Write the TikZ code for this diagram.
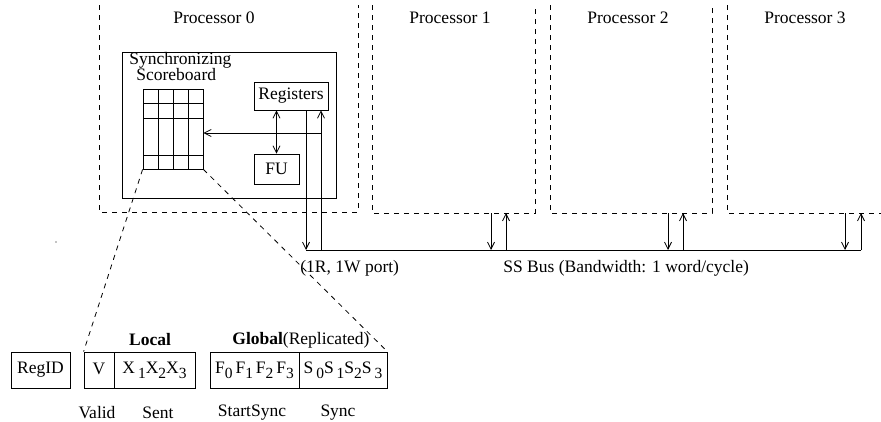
\documentclass[tikz,border=0pt]{standalone}
\usepackage{fontspec}
\setmainfont{Liberation Serif}
\usetikzlibrary{arrows.meta}
\newcommand\mysub[1]{\raisebox{-5pt}{\fontsize{15.5}{17}\selectfont #1}}
\begin{document}
\begin{tikzpicture}[x=1pt,y=-1pt, line width=0.8pt,
  procbox/.style={dash pattern=on 5pt off 5pt},
  box/.style={draw, inner sep=0pt, font=\fontsize{17.5}{20}\selectfont},
  arr/.style={-{Straight Barb[length=7pt,width=7pt]}},
  darr/.style={{Straight Barb[length=7pt,width=7pt]}-{Straight Barb[length=7pt,width=7pt]}},
  lbl/.style={font=\fontsize{17.5}{20}\selectfont, inner sep=0pt}
]
\useasboundingbox (0,0) rectangle (881,421);

% processor regions
\draw[procbox] (99,5) -- (99,212) -- (358,212) -- (358,5);
\draw[procbox] (372,5) -- (372,213) -- (535,213) -- (535,5);
\draw[procbox] (550,5) -- (550,213) -- (712,213) -- (712,5);
\draw[procbox] (727,5) -- (727,213) -- (881,213);

\node[lbl] (t0) at (214,18) {Processor 0};
\node[lbl] (t1) at (450,18) {Processor 1};
\node[lbl] (t2) at (628,18) {Processor 2};
\node[lbl] (t3) at (805,18) {Processor 3};

% inner box of processor 0
\node[box, minimum width=214, minimum height=146] (p0in) at (229,125) {};
\node[lbl, anchor=west] (sync) at (129,60) {Synchronizing};
\node[lbl, anchor=west] (score) at (136,75) {Scoreboard};

% scoreboard grid
\node[box, minimum width=60, minimum height=80] (sb) at (173,129) {};
\foreach \xx in {158,173,188} \draw (\xx,89) -- (\xx,169);
\foreach \yy in {103,118,155} \draw (143,\yy) -- (203,\yy);

\node[box, minimum width=74, minimum height=28] (reg) at (291,96) {Registers};
\node[box, minimum width=45, minimum height=30] (fu) at (276.5,169) {FU};

\draw[darr] (fu.north) -- (fu.north |- reg.south);

% bus
\coordinate (busL) at (306,250);
\coordinate (busR) at (861,250);
\draw (busL) -- (busR);

\coordinate (dn0) at (306,110);
\draw[arr] (dn0) -- (busL);
\coordinate (up0) at (321,250);
\draw[arr] (up0) -- (up0 |- reg.south);
\coordinate (br) at (321,133);
\draw[arr] (br) -- (br -| sb.east);

% other processors' ports
\foreach \d/\u in {491/506, 668/683, 845/861}{
  \coordinate (d\d) at (\d,213);
  \coordinate (u\u) at (\u,250);
  \draw[arr] (d\d) -- (d\d |- busL);
  \draw[arr] (u\u) -- (u\u |- d\d);
}

\node[lbl, anchor=west] (port) at (300,268) {(1R, 1W port)};
\node[lbl, anchor=west] (ssbus) at (503,268) {SS Bus (Bandwidth: 1 word/cycle)};

% scoreboard entry
\node[box, minimum width=59, minimum height=36] (regid) at (40.5,370) {RegID};
\node[box, minimum width=30, minimum height=36] (v) at (99,370) {\raisebox{2pt}{V}};
\node[box, minimum width=81, minimum height=36] (x) at (154.5,370) {\raisebox{2pt}{X\,\mysub{1}X\mysub{2}X\mysub{3}}};
\node[box, minimum width=89, minimum height=36] (f) at (254.5,370) {\raisebox{2pt}{F\mysub{0}\,F\mysub{1}\,F\mysub{2}\,F\mysub{3}}};
\node[box, minimum width=88, minimum height=36] (s) at (343,370) {\raisebox{2pt}{S\,\mysub{0}S\,\mysub{1}S\mysub{2}S\,\mysub{3}}};

\draw[procbox] (sb.south west) -- (v.north west);
\draw[procbox] (sb.south east) -- (s.north east);

\node[lbl] (local) at (150,340) {\textbf{Local}};
\node[lbl, anchor=west] (global) at (232,340) {\textbf{Global}(Replicated)};
\node[lbl] (valid) at (97,413) {Valid};
\node[lbl] (sent) at (158,413) {Sent};
\node[lbl] (startsync) at (252,413) {StartSync};
\node[lbl] (syncl) at (338,413) {Sync};

\fill (56,242) circle (0.6);
\end{tikzpicture}
\end{document}
